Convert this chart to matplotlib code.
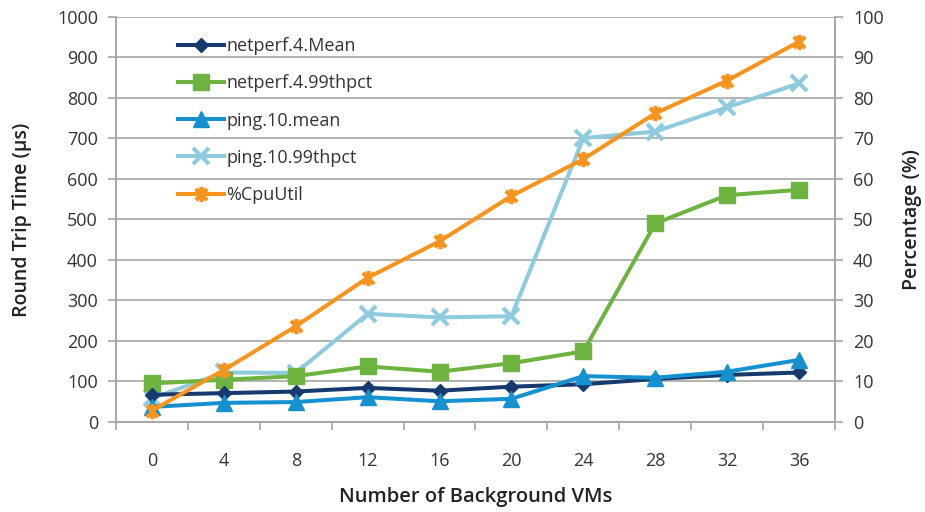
import matplotlib
matplotlib.use("Agg")
import matplotlib.pyplot as plt
from matplotlib.path import Path

vms = [0, 4, 8, 12, 16, 20, 24, 28, 32, 36]
netperf_mean = [67, 71, 75, 84, 77, 87, 93, 106, 116, 122]
netperf_99 = [95, 104, 113, 137, 124, 145, 174, 490, 560, 573]
ping_mean = [37, 47, 49, 61, 51, 57, 113, 109, 124, 153]
ping_99 = [58, 122, 121, 267, 258, 261, 701, 717, 777, 836]
cpu_util = [2.8, 12.8, 23.6, 35.6, 44.6, 55.8, 64.9, 76.2, 84.3, 93.9]

left_ticks = list(range(0, 1001, 100))
right_ticks = list(range(0, 101, 10))

plt.rcParams['font.family'] = ['Open Sans', 'DejaVu Sans']
text_color = '#333333'
grid_color = '#a6a6a6'

# Excel-style star: an "x" crossed with a vertical bar
star = Path([(-1, -1), (1, 1), (-1, 1), (1, -1), (0, -1.35), (0, 1.35)],
            [Path.MOVETO, Path.LINETO, Path.MOVETO, Path.LINETO,
             Path.MOVETO, Path.LINETO])

fig = plt.figure(figsize=(9.25, 5.12), dpi=100)
ax = fig.add_axes([0.1254, 0.176, 0.7773, 0.7908])
ax2 = ax.twinx()

lw = 2.9
h1, = ax.plot(vms, netperf_mean, color='#173a6e', lw=lw, marker='D', ms=7.5,
              label='netperf.4.Mean', zorder=5)
h2, = ax.plot(vms, netperf_99, color='#6db33f', lw=lw, marker='s', ms=11,
              label='netperf.4.99thpct', zorder=4)
h3, = ax.plot(vms, ping_mean, color='#1591cf', lw=lw, marker='^', ms=11,
              label='ping.10.mean', zorder=6)
h4, = ax.plot(vms, ping_99, color='#8dcbdd', lw=lw, marker='x', ms=11, mew=3,
              label='ping.10.99thpct', zorder=3)
h5, = ax2.plot(vms, cpu_util, color='#f7941d', lw=lw, marker=star, ms=11,
               mew=3, mec='#f7941d', mfc='none', label='%CpuUtil', zorder=5)

ax.set_xlim(-2, 38)
ax.set_ylim(0, 1000)
ax2.set_ylim(0, 100)
ax.set_yticks(left_ticks)
ax2.set_yticks(right_ticks)
ax.set_xticks(vms)
ax.set_xticks(list(range(-2, 39, 4)), minor=True)
ax.tick_params(axis='x', which='major', length=0, pad=22, labelsize=13,
               colors=text_color)
ax.tick_params(axis='x', which='minor', length=6, width=1.2, color=grid_color)
ax.tick_params(axis='y', length=6, width=1.2, color=grid_color, pad=7,
               labelsize=13, labelcolor=text_color)
ax2.tick_params(axis='y', length=6, width=1.2, color=grid_color, pad=7,
                labelsize=13, labelcolor=text_color)

ax.grid(axis='y', color=grid_color, lw=1.2)
ax.set_axisbelow(True)
for a in (ax, ax2):
    a.spines['top'].set_visible(False)
    for s in ('left', 'right', 'bottom'):
        a.spines[s].set_color(grid_color)
        a.spines[s].set_linewidth(1.2)

ax.set_ylabel('Round Trip Time (µs)', fontsize=14, fontweight='semibold',
              color='#222222', labelpad=18)
ax2.set_ylabel('Percentage (%)', fontsize=14, fontweight='semibold',
               color='#222222', labelpad=13)
ax.set_xlabel('Number of Background VMs', fontsize=14.5, fontweight='semibold',
              color='#222222', labelpad=12)

leg = ax2.legend(handles=[h1, h2, h3, h4, h5], loc='upper left',
                 bbox_to_anchor=(0.063, 0.99), frameon=False, fontsize=13,
                 handlelength=2.6, handletextpad=0.1, labelspacing=1.06,
                 labelcolor=text_color)

fig.savefig('out.png', dpi=100)
